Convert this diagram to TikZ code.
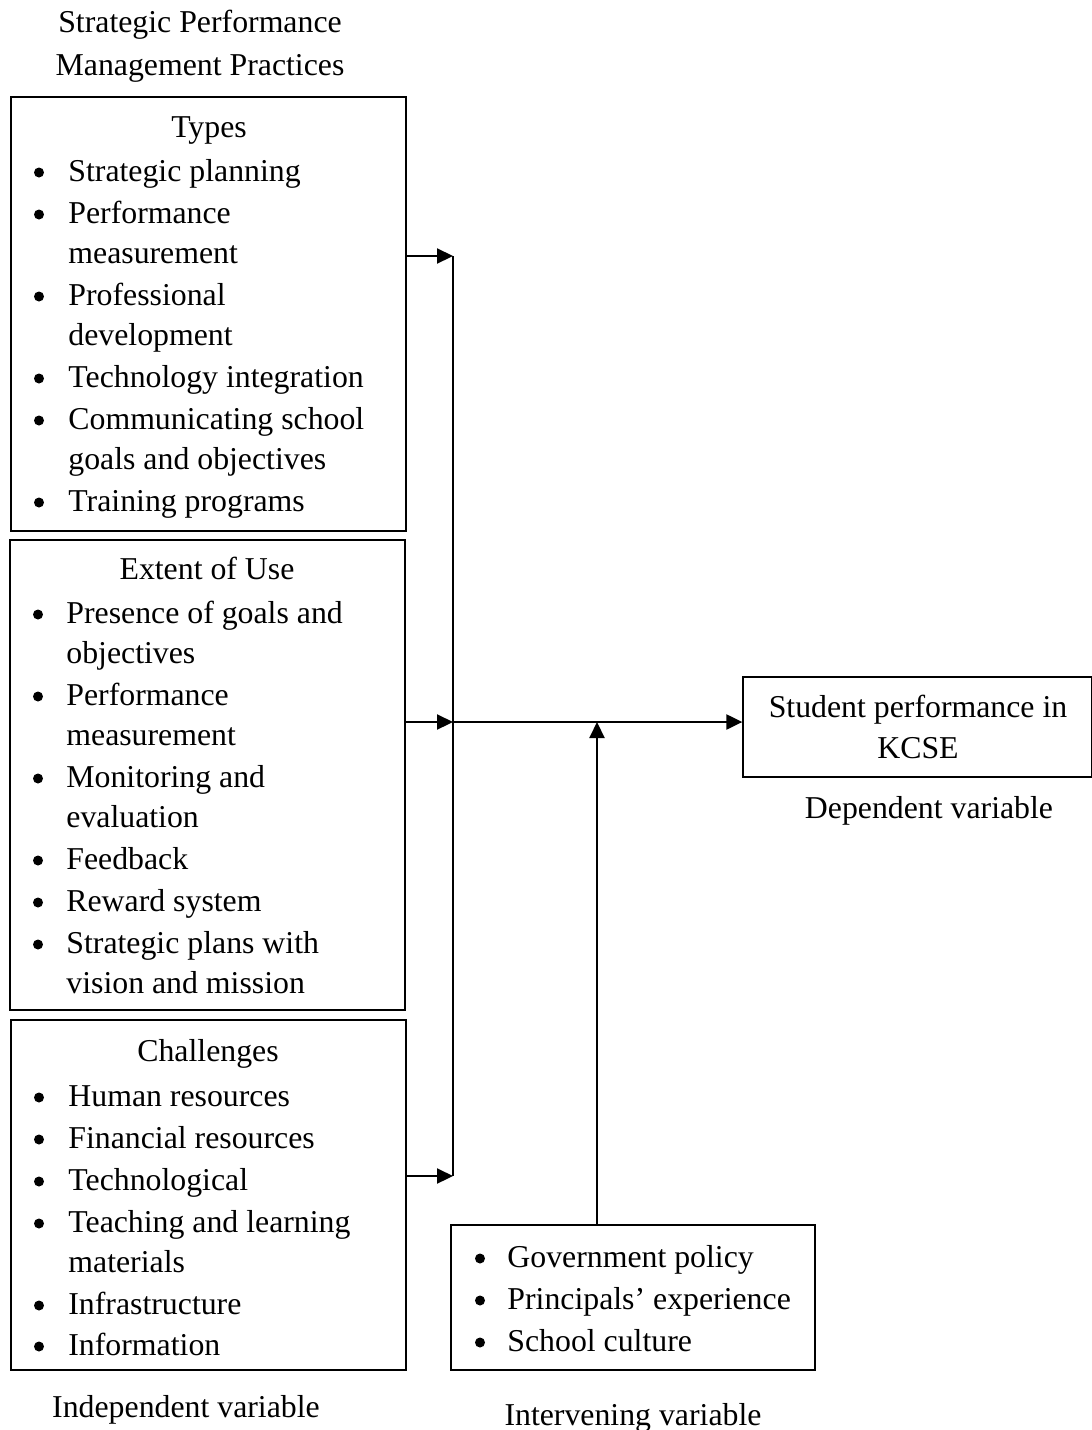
\documentclass[tikz,border=0pt]{standalone}
\usepackage{fontspec}
\setmainfont{Liberation Serif}
\usetikzlibrary{arrows.meta}
\begin{document}
\begin{tikzpicture}[x=0.5pt,y=-0.5pt,
  font=\fontsize{15.9pt}{19pt}\selectfont,
  box/.style={draw, line width=0.65pt, inner sep=0pt, rectangle},
  txt/.style={anchor=base west, inner sep=0pt},
  ctr/.style={anchor=base, inner sep=0pt},
  bul/.style={circle, fill=black, inner sep=0pt, minimum size=5pt, yshift=8.5*0.5pt},
  conn/.style={line width=1.1pt, -{Triangle[length=8pt,width=7.5pt]}},
  trunk/.style={line width=0.7pt}]
\useasboundingbox (0,0) rectangle (1092,1430);

% title
\node[ctr] (ti1) at (200,32) {Strategic Performance};
\node[ctr] (ti2) at (200,75) {Management Practices};

% boxes
\node[box, minimum width=197.5pt, minimum height=217pt] (b1) at (208.5,314) {};
\node[box, minimum width=197.5pt, minimum height=235pt] (b2) at (207.5,775) {};
\node[box, minimum width=197.5pt, minimum height=175pt] (b3) at (208.5,1195) {};
\node[box, minimum width=174.5pt, minimum height=50pt] (dep) at (917.5,727) {};
\node[box, minimum width=182pt, minimum height=72.5pt] (iv) at (633,1297.5) {};

% box 1
\node[ctr] (h1) at (209,137) {Types};
\node[bul] (p11) at (39,181) {}; \node[txt] (a11) at (68,181) {Strategic planning};
\node[bul] (p12) at (39,223) {}; \node[txt] (a12) at (68,223) {Performance};
\node[txt] (a13) at (68,263) {measurement};
\node[bul] (p14) at (39,305) {}; \node[txt] (a14) at (68,305) {Professional};
\node[txt] (a15) at (68,345) {development};
\node[bul] (p16) at (39,387) {}; \node[txt] (a16) at (68,387) {Technology integration};
\node[bul] (p17) at (39,429) {}; \node[txt] (a17) at (68,429) {Communicating school};
\node[txt] (a18) at (68,469) {goals and objectives};
\node[bul] (p19) at (39,511) {}; \node[txt] (a19) at (68,511) {Training programs};

% box 2
\node[ctr] (h2) at (207,579) {Extent of Use};
\node[bul] (p21) at (38,623) {}; \node[txt] (a21) at (66,623) {Presence of goals and};
\node[txt] (a22) at (66,663) {objectives};
\node[bul] (p23) at (38,705) {}; \node[txt] (a23) at (66,705) {Performance};
\node[txt] (a24) at (66,745) {measurement};
\node[bul] (p25) at (38,787) {}; \node[txt] (a25) at (66,787) {Monitoring and};
\node[txt] (a26) at (66,827) {evaluation};
\node[bul] (p27) at (38,869) {}; \node[txt] (a27) at (66,869) {Feedback};
\node[bul] (p28) at (38,911) {}; \node[txt] (a28) at (66,911) {Reward system};
\node[bul] (p29) at (38,953) {}; \node[txt] (a29) at (66,953) {Strategic plans with};
\node[txt] (a2a) at (66,993) {vision and mission};

% box 3
\node[ctr] (h3) at (208,1061) {Challenges};
\node[bul] (p31) at (39,1106) {}; \node[txt] (a31) at (68,1106) {Human resources};
\node[bul] (p32) at (39,1148) {}; \node[txt] (a32) at (68,1148) {Financial resources};
\node[bul] (p33) at (39,1190) {}; \node[txt] (a33) at (68,1190) {Technological};
\node[bul] (p34) at (39,1232) {}; \node[txt] (a34) at (68,1232) {Teaching and learning};
\node[txt] (a35) at (68,1272) {materials};
\node[bul] (p36) at (39,1314) {}; \node[txt] (a36) at (68,1314) {Infrastructure};
\node[bul] (p37) at (39,1355) {}; \node[txt] (a37) at (68,1355) {Information};

% intervening box
\node[bul] (p41) at (480,1267) {}; \node[txt] (a41) at (507,1267) {Government policy};
\node[bul] (p42) at (480,1309) {}; \node[txt] (a42) at (507,1309) {Principals’ experience};
\node[bul] (p43) at (480,1351) {}; \node[txt] (a43) at (507,1351) {School culture};

% dependent box
\node[ctr] (d1) at (918,717) {Student performance in};
\node[ctr] (d2) at (918,758) {KCSE};

% labels
\node[ctr] (l1) at (186,1417) {Independent variable};
\node[ctr] (l2) at (633,1425) {Intervening variable};
\node[ctr] (l3) at (929,818) {Dependent variable};

% connectors
\coordinate (j1) at (453,256);
\coordinate (j2) at (453,722);
\coordinate (j3) at (453,1176);
\coordinate (jm) at (597,722);
\draw[trunk] (j1) -- (j3);
\draw[conn] (b1.east |- j1) -- (j1);
\draw[conn] (b2.east |- j2) -- (j2);
\draw[conn] (b3.east |- j3) -- (j3);
\draw[conn] (j2) -- (dep.west |- j2);
\draw[conn] (iv.north -| jm) -- (jm);
\end{tikzpicture}
\end{document}
